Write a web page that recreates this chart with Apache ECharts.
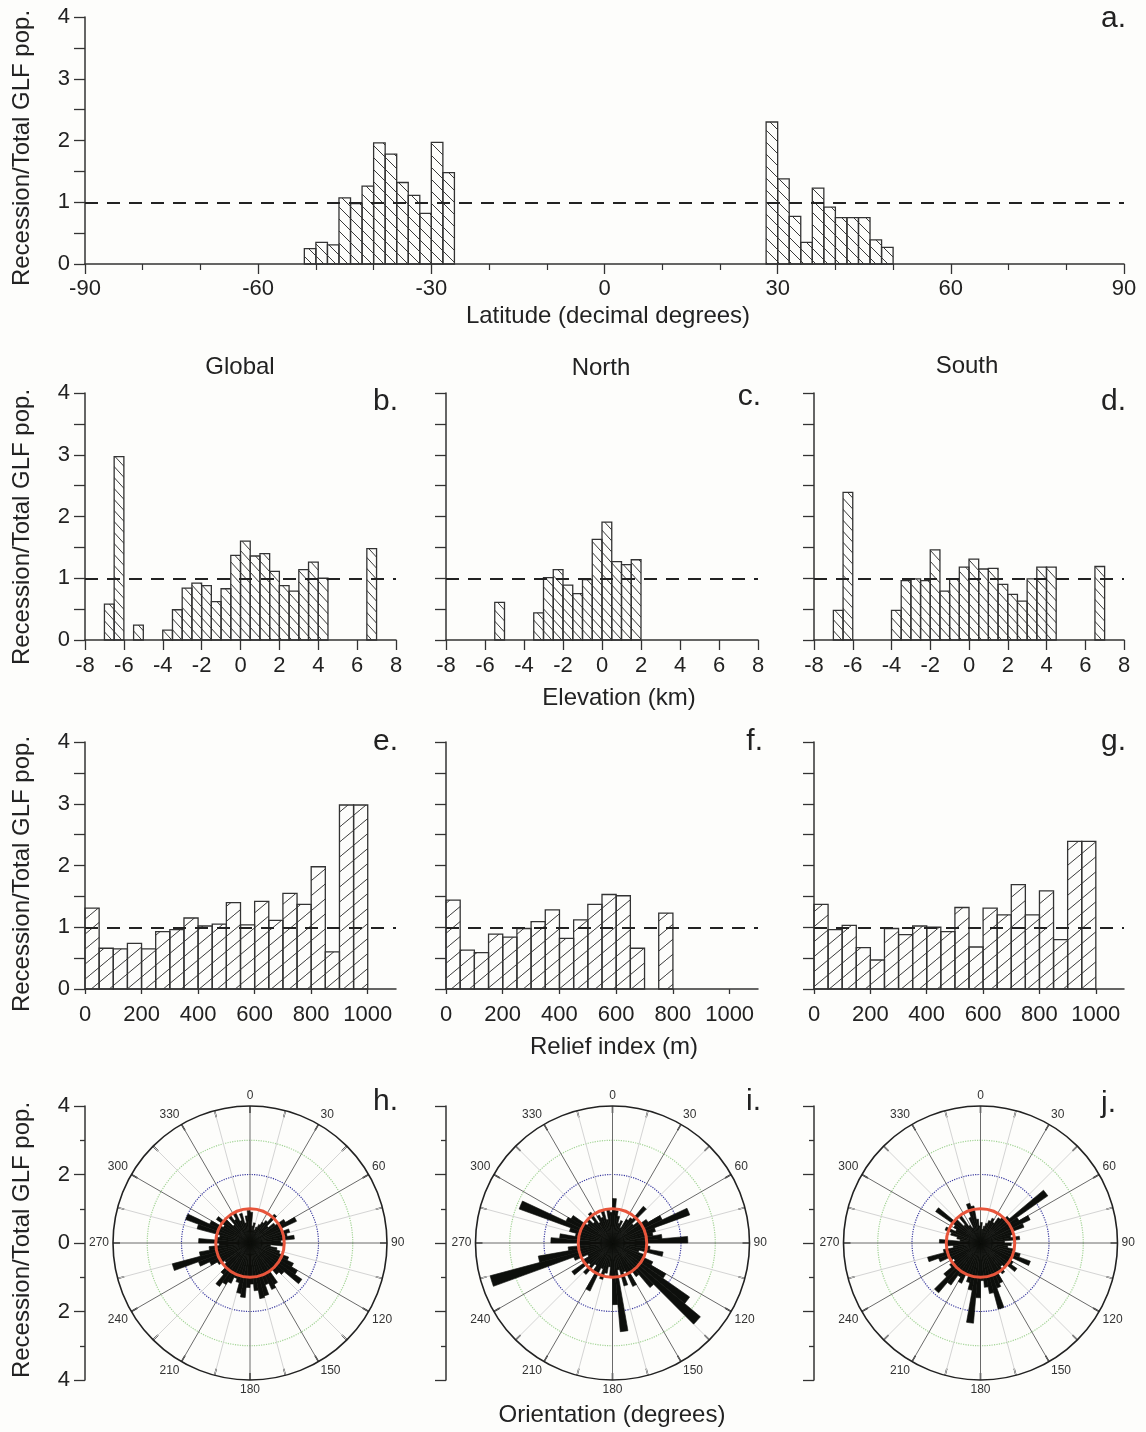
<!DOCTYPE html>
<html><head><meta charset="utf-8">
<script src="https://cdn.jsdelivr.net/npm/echarts@6/dist/echarts.min.js"></script>
<style>html,body{margin:0;padding:0;background:#fdfdfb;} #c{width:1146px;height:1432px;}</style>
</head><body><div id="c"></div>
<script>
// ---------------- DATA ----------------
// a. Latitude histogram (bin left edges, 2-degree bins)
const latBinWidth = 2;
const latBinsSouth = [-52,-50,-48,-46,-44,-42,-40,-38,-36,-34,-32,-30,-28];
const latValsSouth = [0.25,0.35,0.31,1.07,0.98,1.26,1.96,1.78,1.32,1.11,0.82,1.97,1.48];
const latBinsNorth = [28,30,32,34,36,38,40,42,44,46,48];
const latValsNorth = [2.30,1.38,0.77,0.35,1.23,0.92,0.75,0.75,0.75,0.39,0.27];

// b-d. Elevation histograms (0.5 km bins)
const elevBinWidth = 0.5;
const elevBinsGlobal = [-7,-6.5,-5.5,-4,-3.5,-3,-2.5,-2,-1.5,-1,-0.5,0,0.5,1,1.5,2,2.5,3,3.5,4,6.5];
const elevValsGlobal = [0.58,2.97,0.24,0.16,0.49,0.84,0.92,0.88,0.62,0.83,1.37,1.60,1.36,1.40,1.11,0.88,0.79,1.14,1.26,1.00,1.48];
const elevBinsNorth = [-5.5,-3.5,-3,-2.5,-2,-1.5,-1,-0.5,0,0.5,1,1.5];
const elevValsNorth = [0.61,0.44,1.01,1.14,0.89,0.75,0.98,1.63,1.91,1.27,1.22,1.30];
const elevBinsSouth = [-7,-6.5,-4,-3.5,-3,-2.5,-2,-1.5,-1,-0.5,0,0.5,1,1.5,2,2.5,3,3.5,4,6.5];
const elevValsSouth = [0.48,2.39,0.48,0.96,0.99,0.96,1.46,0.79,0.99,1.18,1.31,1.15,1.16,0.90,0.74,0.63,0.99,1.18,1.18,1.19];

// e-g. Relief index histograms (50 m bins)
const reliefBinWidth = 50;
const reliefBins = [0,50,100,150,200,250,300,350,400,450,500,550,600,650,700,750,800,850,900,950];
const reliefValsGlobal = [1.31,0.66,0.65,0.74,0.65,0.93,0.96,1.15,1.02,1.05,1.40,1.04,1.42,1.11,1.55,1.37,1.98,0.60,2.98,2.98];
const reliefBinsNorth = [0,50,100,150,200,250,300,350,400,450,500,550,600,650,750];
const reliefValsNorth = [1.44,0.63,0.59,0.89,0.84,0.98,1.09,1.28,0.82,1.12,1.37,1.53,1.51,0.66,1.23];
const reliefValsSouth = [1.37,0.96,1.03,0.67,0.47,0.98,0.88,1.02,1.00,0.93,1.32,0.68,1.31,1.20,1.69,1.20,1.59,0.80,2.39,2.39];
const reliefTicks = [0,200,400,600,800,1000];

// h-j. Orientation rose diagrams (5-degree bins)
const roseAngles = [0,5,10,15,20,25,30,35,40,45,50,55,60,65,70,75,80,85,90,95,100,105,110,115,
  120,125,130,135,140,145,150,155,160,165,170,175,180,185,190,195,200,205,210,215,220,225,230,235,
  240,245,250,255,260,265,270,275,280,285,290,295,300,305,310,315,320,325,330,335,340,345,350,355];
const roseGlobal = [0.9,0.5,0.6,0.4,0.5,0.6,0.7,0.8,1.1,0.7,0.9,1.2,1.5,1.0,1.2,1.1,1.3,0.9,
  1.0,0.6,0.8,0.9,1.2,1.4,1.6,1.85,1.3,1.2,1.0,1.4,1.5,1.3,1.6,1.65,1.4,1.2,
  1.3,1.6,1.5,1.2,1.1,1.3,1.4,1.55,1.2,1.0,0.9,1.1,1.3,1.6,2.35,1.5,1.2,0.9,
  1.5,1.0,0.9,1.6,2.0,1.3,0.9,1.2,1.0,0.7,1.0,0.8,1.0,0.7,0.9,0.6,0.8,0.95];
const roseNorth = [1.3,0.95,0.8,0.6,0.7,0.5,0.8,0.9,1.4,0.8,1.0,1.2,1.6,2.4,1.3,1.2,1.45,2.2,
  1.0,1.1,1.5,0.8,1.0,1.3,1.8,2.75,3.35,1.7,1.2,1.0,1.4,0.9,1.3,0.8,2.6,1.8,
  1.0,0.7,0.9,1.1,0.8,1.55,1.0,0.8,1.2,0.9,1.45,1.0,0.8,1.2,3.7,2.2,1.3,1.0,
  1.8,1.55,1.1,1.3,2.9,1.5,1.4,0.9,1.0,0.8,1.1,0.7,0.9,0.8,1.0,0.7,1.0,0.9];
const roseSouth = [0.6,0.4,0.5,0.6,0.7,0.8,0.7,0.9,1.0,1.1,2.4,1.3,1.6,1.35,1.0,0.9,1.15,0.7,
  0.9,0.8,1.0,1.2,1.55,1.0,1.1,1.3,1.0,0.9,1.1,1.0,1.3,1.4,2.0,1.5,1.3,1.1,
  1.6,2.35,1.4,1.2,1.0,1.3,1.15,1.5,1.9,1.4,1.1,0.9,1.0,1.3,1.6,1.1,0.8,1.0,
  1.2,0.6,0.7,0.9,1.1,0.8,0.9,1.6,1.0,0.7,1.0,0.6,0.5,0.8,1.2,1.1,0.7,0.5];

// ---------------- STYLE / LAYOUT ----------------
const FONT = '"Liberation Sans", Arial, sans-serif';
const TXT = '#222';
const AX = '#333';

function hatch(w, h, dir) {
  const c = document.createElement('canvas'); c.width = w; c.height = h;
  const g = c.getContext('2d'); g.strokeStyle = '#3a3a3a'; g.lineWidth = 1;
  g.beginPath();
  for (let k = -1; k <= 1; k++) {
    if (dir === 'back') { g.moveTo(k*w, 0); g.lineTo(k*w + w, h); }
    else { g.moveTo(k*w, h); g.lineTo(k*w + w, 0); }
  }
  g.stroke();
  return c;
}
const patA = hatch(12, 12, 'back');
const patB = hatch(10, 11, 'back');
const patE = hatch(18, 15, 'fwd');

const grids = [
  {left:85, top:17, width:1039, height:247},   // a
  {left:85, top:393, width:311, height:247},   // b
  {left:446, top:393, width:312, height:247},  // c
  {left:814, top:393, width:310, height:247},  // d
  {left:85, top:742, width:311, height:247},   // e
  {left:446, top:742, width:312, height:247},  // f
  {left:814, top:742, width:310, height:247},  // g
  {left:85, top:1106, width:1, height:274},    // h y-axis
  {left:446, top:1106, width:1, height:274},   // i y-axis
  {left:814, top:1106, width:1, height:274}    // j y-axis
].map(g => Object.assign({outerBoundsMode:'none', containLabel:false}, g));

function yAx(gi, showLabels) {
  return {gridIndex:gi, type:'value', min:0, max:4, interval:0.5,
    axisLine:{show:true, onZero:false, lineStyle:{color:AX, width:1.5}},
    axisTick:{show:true, length:11, lineStyle:{color:AX, width:1.3}},
    axisLabel:{show:showLabels, formatter: v => Number.isInteger(v) ? String(v) : '', fontSize:22, color:TXT, margin:15, fontFamily:FONT},
    splitLine:{show:false}};
}
function yPolarAx(gi, showLabels) {
  return {gridIndex:gi, type:'value', min:-4, max:4, interval:2,
    axisLine:{show:true, onZero:false, lineStyle:{color:AX, width:1.5}},
    axisTick:{show:true, length:11, lineStyle:{color:AX, width:1.3}},
    minorTick:{show:true, splitNumber:2, length:5, lineStyle:{color:AX, width:1.3}},
    axisLabel:{show:showLabels, formatter: v => String(Math.abs(v)), fontSize:22, color:TXT, margin:15, fontFamily:FONT},
    splitLine:{show:false}, minorSplitLine:{show:false}};
}
const xLabel = {fontSize:22, color:TXT, fontFamily:FONT};
const xAxes = [
  {gridIndex:0, type:'value', min:-90, max:90, interval:30,
   axisLine:{onZero:false, lineStyle:{color:AX, width:1.5}},
   axisTick:{length:10, lineStyle:{color:AX, width:1.3}},
   minorTick:{show:true, splitNumber:3, length:6, lineStyle:{color:AX, width:1.2}},
   axisLabel:Object.assign({margin:14}, xLabel), splitLine:{show:false}, minorSplitLine:{show:false}},
];
for (let i = 1; i <= 3; i++) {
  xAxes.push({gridIndex:i, type:'value', min:-8, max:8, interval:2,
    axisLine:{onZero:false, lineStyle:{color:AX, width:1.5}},
    axisTick:{length:10, lineStyle:{color:AX, width:1.3}},
    axisLabel:Object.assign({margin:15}, xLabel), splitLine:{show:false}});
}
for (let i = 4; i <= 6; i++) {
  xAxes.push({gridIndex:i, type:'value', min:0, max:1100, interval:100,
    axisLine:{onZero:false, lineStyle:{color:AX, width:1.5}},
    axisTick:{length:5, customValues:reliefTicks, lineStyle:{color:AX, width:1.3}},
    axisLabel:Object.assign({margin:15, customValues:reliefTicks, formatter: v => String(v)}, xLabel), splitLine:{show:false}});
}
for (let i = 7; i <= 9; i++) {
  xAxes.push({gridIndex:i, type:'value', min:0, max:1, show:false});
}
const yAxes = [yAx(0,true), yAx(1,true), yAx(2,false), yAx(3,false), yAx(4,true), yAx(5,false), yAx(6,false),
  yPolarAx(7,true), yPolarAx(8,false), yPolarAx(9,false)];

const dashLine = {silent:true, symbol:'none', label:{show:false}, z:5,
  lineStyle:{color:'#222', type:[13,9], width:2}, data:[{yAxis:1}]};

function histSeries(gi, bins, vals, width, pat) {
  return {
    type:'custom', xAxisIndex:gi, yAxisIndex:gi, clip:false, z:2,
    data: bins.map((b, i) => [b, b + width, vals[i]]),
    encode:{x:[0,1], y:2},
    renderItem: (params, api) => {
      const p0 = api.coord([api.value(0), api.value(2)]);
      const p1 = api.coord([api.value(1), 0]);
      return {type:'rect', shape:{x:p0[0], y:p0[1], width:p1[0]-p0[0], height:p1[1]-p0[1]},
        style:{fill:{image:pat, repeat:'repeat'}, stroke:'#333', lineWidth:1.3}};
    },
    markLine: dashLine
  };
}

const series = [
  histSeries(0, latBinsSouth.concat(latBinsNorth), latValsSouth.concat(latValsNorth), latBinWidth, patA),
  histSeries(1, elevBinsGlobal, elevValsGlobal, elevBinWidth, patB),
  histSeries(2, elevBinsNorth, elevValsNorth, elevBinWidth, patB),
  histSeries(3, elevBinsSouth, elevValsSouth, elevBinWidth, patB),
  histSeries(4, reliefBins, reliefValsGlobal, reliefBinWidth, patE),
  histSeries(5, reliefBinsNorth, reliefValsNorth, reliefBinWidth, patE),
  histSeries(6, reliefBins, reliefValsSouth, reliefBinWidth, patE)
];

// Polar roses
const roseCenters = [250, 612.5, 980.5];
const roseData = [roseGlobal, roseNorth, roseSouth];
const R = 137, CY = 1243;
const polar = [], angleAxis = [], radiusAxis = [];
roseCenters.forEach((cx, k) => {
  const b = k * 3;
  // background grid
  polar.push({center:[cx, CY], radius:R});
  angleAxis.push({polarIndex:b, type:'value', min:0, max:360, interval:15, startAngle:90, clockwise:true, z:0,
    axisLine:{lineStyle:{color:'#222', width:1.6}},
    axisTick:{show:true, inside:true, length:7, lineStyle:{color:'#222', width:1.5}},
    axisLabel:{formatter: v => (v % 30 === 0 && v < 360) ? String(v) : '', fontSize:12, color:'#333', margin:4, fontFamily:FONT},
    splitLine:{show:true, lineStyle:{color:['#6a6a6a','#d4d4d4'], width:1}}});
  radiusAxis.push({polarIndex:b, type:'value', min:0, max:4, interval:1,
    axisLine:{show:false}, axisTick:{show:false}, axisLabel:{show:false},
    splitLine:{show:true, lineStyle:{color:['rgba(0,0,0,0)','rgba(0,0,0,0)','#3a3aa0','#a3d496','rgba(0,0,0,0)'], type:'dotted', width:1.2}}});
  // bars
  polar.push({center:[cx, CY], radius:R});
  angleAxis.push({polarIndex:b+1, type:'category', data:roseAngles, startAngle:90, clockwise:true, boundaryGap:true,
    axisLine:{show:false}, axisTick:{show:false}, axisLabel:{show:false}, splitLine:{show:false}});
  radiusAxis.push({polarIndex:b+1, type:'value', min:0, max:4, show:false});
  // red reference circle (value 1)
  polar.push({center:[cx, CY], radius:R/4});
  angleAxis.push({polarIndex:b+2, type:'value', min:0, max:360, startAngle:90, z:10,
    axisLine:{lineStyle:{color:'#e8553b', width:3}}, axisTick:{show:false}, axisLabel:{show:false}, splitLine:{show:false}});
  radiusAxis.push({polarIndex:b+2, type:'value', min:0, max:1, show:false});

  series.push({type:'bar', coordinateSystem:'polar', polarIndex:b+1, data:roseData[k],
    barCategoryGap:'0%', barGap:'0%', itemStyle:{color:'#0d0f0c', borderColor:'#0d0f0c', borderWidth:0.6}, z:3, silent:true});
});

function txt(x, y, s, size, opts) {
  return Object.assign({type:'text', x:x, y:y, silent:true,
    style:{text:s, font:size + 'px ' + FONT, fill:TXT, align:'center', verticalAlign:'middle'}}, opts || {});
}
const yTitle = 'Recession/Total GLF pop.';
const graphics = [
  txt(22, 148, yTitle, 24, {rotation:Math.PI/2}),
  txt(22, 527, yTitle, 24, {rotation:Math.PI/2}),
  txt(22, 874, yTitle, 24, {rotation:Math.PI/2}),
  txt(22, 1240, yTitle, 24, {rotation:Math.PI/2}),
  txt(608, 316, 'Latitude (decimal degrees)', 24),
  txt(619, 698, 'Elevation (km)', 24),
  txt(614, 1047, 'Relief index (m)', 24),
  txt(612, 1415, 'Orientation (degrees)', 24),
  txt(240, 367, 'Global', 24),
  txt(601, 368, 'North', 24),
  txt(967, 366, 'South', 24),
];
const letters = [['a.',1126,19],['b.',398,402],['c.',761,397],['d.',1126,402],['e.',398,742],['f.',763,742],['g.',1126,742],['h.',398,1102],['i.',761,1102],['j.',1116,1104]];
letters.forEach(l => graphics.push({type:'text', x:l[1], y:l[2], silent:true,
  style:{text:l[0], font:'30px ' + FONT, fill:TXT, align:'right', verticalAlign:'middle'}}));

const chart = echarts.init(document.getElementById('c'), null, {renderer:'canvas'});
chart.setOption({
  backgroundColor:'#fdfdfb',
  animation:false,
  grid:grids, xAxis:xAxes, yAxis:yAxes,
  polar:polar, angleAxis:angleAxis, radiusAxis:radiusAxis,
  series:series,
  graphic:graphics
});
</script></body></html>
